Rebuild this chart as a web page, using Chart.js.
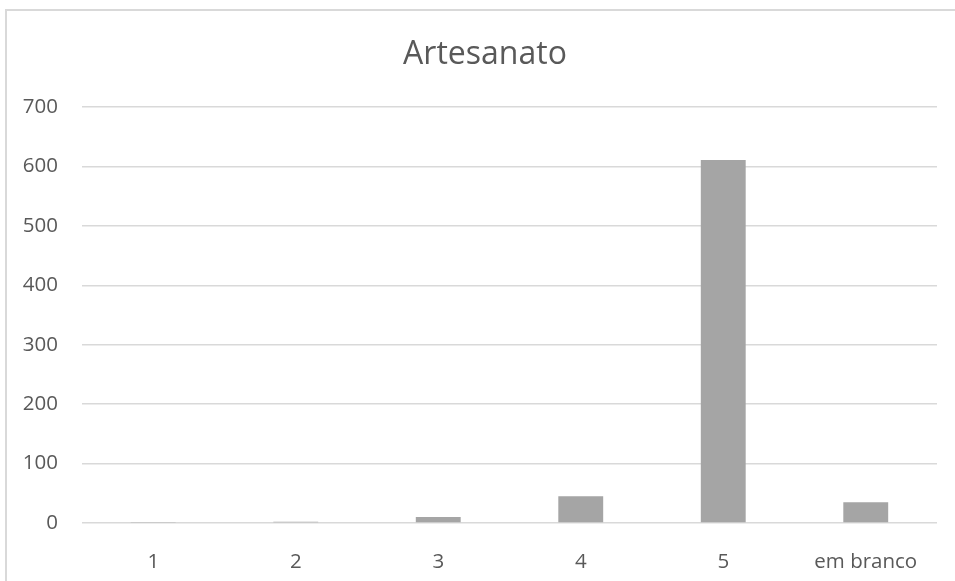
<!DOCTYPE html>
<html>
<head>
<meta charset="utf-8">
<script src="https://cdn.jsdelivr.net/npm/chart.js@4/dist/chart.umd.min.js"></script>
<style>
  html, body { margin: 0; padding: 0; background: #fff; }
  #wrap { position: relative; width: 955px; height: 581px; }
  #frame { position: absolute; left: 5px; top: 9px; right: 0; bottom: 0;
           border-top: 2px solid #d9d9d9; border-left: 2px solid #d9d9d9; pointer-events: none; }
</style>
</head>
<body>
<div id="wrap">
  <canvas id="artesanatoChart" width="955" height="581"></canvas>
  <div id="frame"></div>
</div>
<script>
var categories = ['1', '2', '3', '4', '5', 'em branco'];
var values = [1, 2, 10, 45, 611, 35];
var yTicks = [0, 100, 200, 300, 400, 500, 600, 700];
var chartTitle = 'Artesanato';

var textColor = '#595959';

// title is centred on the whole frame, not on the plot, so draw it by hand
var frameTitle = {
  id: 'frameTitle',
  afterDraw: function (chart) {
    var c = chart.ctx;
    c.save();
    c.fillStyle = textColor;
    c.font = '32px "Open Sans"';
    c.textAlign = 'center';
    c.textBaseline = 'alphabetic';
    c.fillText(chartTitle, 485, 63.5);
    c.restore();
  }
};

var ctx = document.getElementById('artesanatoChart');
var artesanatoChart = new Chart(ctx, {
  type: 'bar',
  data: {
    labels: categories,
    datasets: [{
      label: chartTitle,
      data: values,
      backgroundColor: '#a5a5a5',
      borderWidth: 0,
      barPercentage: 0.315,
      categoryPercentage: 1
    }]
  },
  options: {
    responsive: false,
    animation: false,
    layout: { padding: { left: 0, right: 18, top: 107, bottom: 0 } },
    plugins: {
      legend: { display: false },
      tooltip: { enabled: false },
      title: { display: false }
    },
    scales: {
      x: {
        grid: { display: false },
        border: { display: false },
        ticks: {
          color: textColor,
          font: { family: 'Open Sans', size: 20.5 },
          padding: 19,
          maxRotation: 0
        },
        afterFit: function (scale) { scale.height = 58; }
      },
      y: {
        min: 0,
        max: 700,
        afterBuildTicks: function (scale) {
          scale.ticks = yTicks.map(function (v) { return { value: v }; });
        },
        grid: { color: '#d9d9d9', lineWidth: 1.5, drawTicks: false },
        border: { display: false },
        ticks: {
          color: textColor,
          font: { family: 'Open Sans', size: 20.5 },
          padding: 24
        },
        afterFit: function (scale) { scale.width = 82; }
      }
    }
  },
  plugins: [frameTitle]
});
</script>
</body>
</html>
